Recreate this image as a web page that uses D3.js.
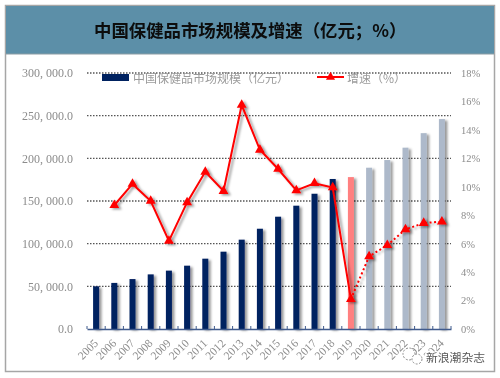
<!DOCTYPE html>
<html>
<head>
<meta charset="utf-8">
<script src="https://cdn.jsdelivr.net/npm/d3@7"></script>
<style>
  html, body { margin: 0; padding: 0; background: #fff; }
  svg { display: block; }
  .tick text { font-family: "Liberation Serif", "Noto Sans CJK SC", serif; fill: #8c8c8c; }
</style>
</head>
<body>
<script>
const years = ['2005','2006','2007','2008','2009','2010','2011','2012','2013','2014','2015','2016','2017','2018','2019','2020','2021','2022','2023','2024']
const marketSize = [50000,54000,58500,64000,68400,74200,82400,90600,104700,117500,131600,144500,158500,175800,178000,189000,198000,212500,229500,246000]
const growth = [null,8.7,10.2,9.0,6.2,8.9,11.05,9.7,15.75,12.6,11.25,9.75,10.25,9.95,2.1,5.1,5.9,7.0,7.45,7.55]
const lastActual = '2018'
const estimateYear = '2019'
const leftTicks = [0,50000,100000,150000,200000,250000,300000]
const rightTicks = [0,2,4,6,8,10,12,14,16,18]

const titleText = '中国保健品市场规模及增速（亿元；%）'
const barName = '中国保健品市场规模（亿元）'
const lineName = '增速（%）'
const sourceText = '新浪潮杂志'

const margin = { top: 73, right: 49, bottom: 49, left: 87 }
const width = 500 - margin.left - margin.right
const height = 378 - margin.top - margin.bottom

const root = d3.select('body')
  .append('svg')
    .attr('width', 500)
    .attr('height', 378)

// Shadow used by bars and line, plus slight softening like the screenshot.
const defs = root.append('defs')
const shadow = defs.append('filter').attr('id', 'shadow')
  .attr('x', '-50%').attr('y', '-10%').attr('width', '250%').attr('height', '120%')
shadow.append('feDropShadow')
  .attr('dx', 2.5).attr('dy', 1.5).attr('stdDeviation', 1.3)
  .attr('flood-color', '#000').attr('flood-opacity', 0.4)
const soft = defs.append('filter').attr('id', 'soft')
soft.append('feGaussianBlur').attr('stdDeviation', 0.45)

const page = root.append('g').attr('filter', 'url(#soft)')

// Frame and header.
page.append('rect')
  .attr('x', 5.5).attr('y', 5.5).attr('width', 489).attr('height', 366)
  .attr('fill', '#fff').attr('stroke', '#a6a6a6').attr('stroke-width', 1.5)
page.append('rect')
  .attr('x', 6).attr('y', 6).attr('width', 488).attr('height', 48)
  .attr('fill', '#5b8fa8')
page.append('line')
  .attr('x1', 6).attr('x2', 494).attr('y1', 54).attr('y2', 54)
  .attr('stroke', '#8c9ca4')
page.append('text')
  .attr('x', 94).attr('y', 37)
  .attr('font-family', '"Noto Sans CJK SC"')
  .attr('font-weight', 700)
  .attr('font-size', 17.4)
  .attr('fill', '#0a0a0a')
  .text(titleText)

const svg = page.append('g')
  .attr('transform', `translate(${margin.left}, ${margin.top})`)

// Create scales.
const x = d3.scaleBand().domain(years).range([0, width])
const y = d3.scaleLinear().domain([0, 300000]).range([height, 0])
const yRight = d3.scaleLinear().domain([0, 18]).range([height, 0])
const cx = d => x(d) + x.bandwidth() / 2

// Gridlines.
svg.selectAll('.grid')
  .data(leftTicks.slice(1))
  .enter().append('line')
    .attr('class', 'grid')
    .attr('x1', 0).attr('x2', width)
    .attr('y1', d => y(d)).attr('y2', d => y(d))
    .attr('stroke', '#555')
    .attr('stroke-width', 1.4)
    .attr('stroke-dasharray', '1.5 1.5')

// Bars.
const barColor = d => d <= lastActual ? '#002060' : d === estimateYear ? '#ff8080' : '#adb9ca'
svg.append('g').attr('filter', 'url(#shadow)')
  .selectAll('rect')
  .data(years)
  .enter().append('rect')
    .attr('x', d => cx(d) - 3)
    .attr('width', 6)
    .attr('y', (d, i) => y(marketSize[i]))
    .attr('height', (d, i) => height - y(marketSize[i]))
    .attr('fill', barColor)

// Axes.
const axisLeft = svg.append('g')
  .call(d3.axisLeft(y).tickValues(leftTicks).tickSize(0).tickPadding(14)
    .tickFormat(d => d3.format(',.1f')(d).replace(/,/g, ', ')))
axisLeft.select('.domain').remove()
axisLeft.selectAll('text').attr('font-size', 12)

const axisRight = svg.append('g')
  .attr('transform', `translate(${width}, 0)`)
  .call(d3.axisRight(yRight).tickValues(rightTicks).tickSize(0).tickPadding(10)
    .tickFormat(d => d + '%'))
axisRight.select('.domain').remove()
axisRight.selectAll('text').attr('font-size', 10.5)

const axisBottom = svg.append('g')
  .attr('transform', `translate(0, ${height})`)
  .call(d3.axisBottom(x).tickSize(0).tickPadding(9))
axisBottom.select('.domain').attr('stroke', '#3f5a8c').attr('stroke-width', 1.5)
axisBottom.selectAll('text')
  .attr('font-size', 11.5)
  .attr('text-anchor', 'end')
  .attr('transform', 'rotate(-45)')
  .attr('dx', '-0.75em')
  .attr('dy', '0.3em')

// Small upward ticks at the category boundaries.
svg.selectAll('.cat-tick')
  .data(years.concat(null))
  .enter().append('line')
    .attr('class', 'cat-tick')
    .attr('x1', d => d === null ? width : x(d))
    .attr('x2', d => d === null ? width : x(d))
    .attr('y1', height).attr('y2', height - 3)
    .attr('stroke', '#3f5a8c').attr('stroke-width', 1)

// Growth line, solid up to 2019 and dotted for the forecast.
const points = years.map((d, i) => ({ year: d, value: growth[i] })).filter(d => d.value !== null)
const line = d3.line().x(d => cx(d.year)).y(d => yRight(d.value))
const lineGroup = svg.append('g').attr('filter', 'url(#shadow)')
lineGroup.append('path')
  .datum(points.filter(d => d.year <= estimateYear))
  .attr('d', line)
  .attr('fill', 'none').attr('stroke', '#ff0000').attr('stroke-width', 2)
lineGroup.append('path')
  .datum(points.filter(d => d.year >= estimateYear))
  .attr('d', line)
  .attr('fill', 'none').attr('stroke', '#ff0000').attr('stroke-width', 2)
  .attr('stroke-dasharray', '2 2.5')
lineGroup.selectAll('.marker')
  .data(points)
  .enter().append('path')
    .attr('class', 'marker')
    .attr('d', d3.symbol(d3.symbolTriangle, 42))
    .attr('transform', d => `translate(${cx(d.year)}, ${yRight(d.value)})`)
    .attr('fill', '#ff0000')

// Legend, drawn over the top gridline.
const legend = page.append('g')
legend.append('rect')
  .attr('x', 102).attr('y', 74).attr('width', 27).attr('height', 7)
  .attr('fill', '#002060')
legend.append('text')
  .attr('x', 133).attr('y', 83)
  .attr('font-family', '"Noto Sans CJK SC"')
  .attr('font-size', 12).attr('fill', '#9a9a9a')
  .text(barName)
legend.append('line')
  .attr('x1', 317).attr('x2', 344).attr('y1', 77).attr('y2', 77)
  .attr('stroke', '#ff0000').attr('stroke-width', 2)
legend.append('path')
  .attr('d', d3.symbol(d3.symbolTriangle, 36))
  .attr('transform', 'translate(330.5, 77)')
  .attr('fill', '#ff0000')
legend.append('text')
  .attr('x', 347).attr('y', 83)
  .attr('font-family', '"Noto Sans CJK SC"')
  .attr('font-size', 12).attr('fill', '#9a9a9a')
  .text(lineName)

// Watermark in the corner.
const mark = page.append('g')
mark.append('circle').attr('cx', 409).attr('cy', 354).attr('r', 6)
  .attr('fill', '#fff').attr('stroke', '#8c8c8c').attr('stroke-dasharray', '2 1.5')
mark.append('circle').attr('cx', 417).attr('cy', 359).attr('r', 5)
  .attr('fill', '#fff').attr('stroke', '#8c8c8c').attr('stroke-dasharray', '2 1.5')
mark.append('text')
  .attr('x', 426).attr('y', 362)
  .attr('font-family', '"Noto Sans CJK SC"')
  .attr('font-size', 11.8)
  .attr('fill', '#555')
  .attr('stroke', '#fff').attr('stroke-width', 2.5).attr('paint-order', 'stroke')
  .text(sourceText)
</script>
</body>
</html>
